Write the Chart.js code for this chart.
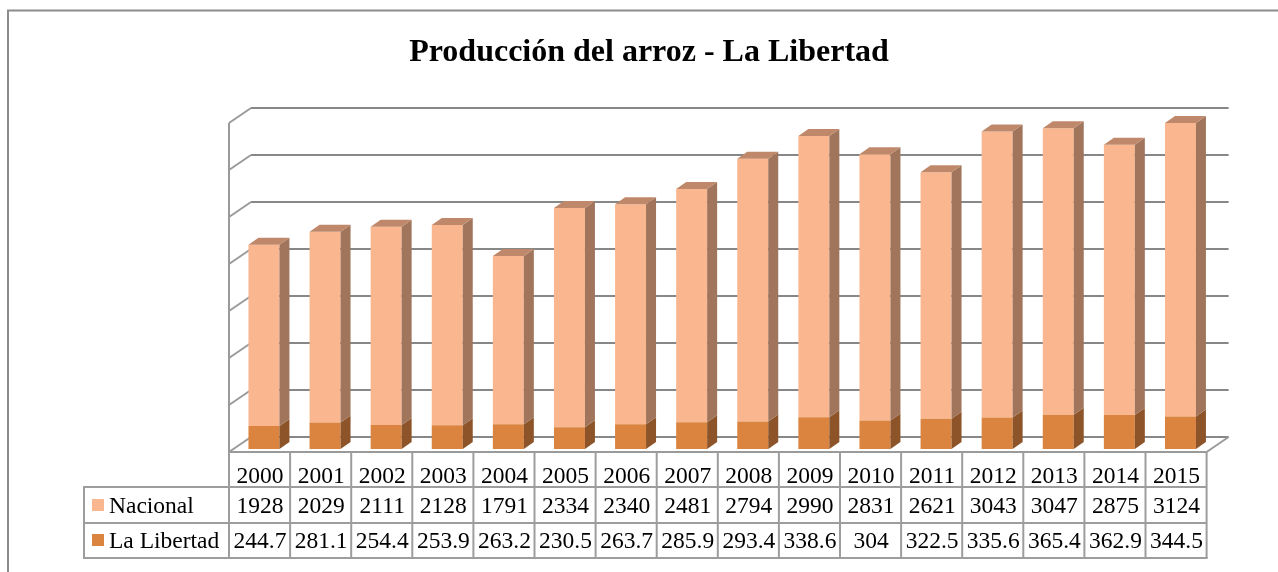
<!DOCTYPE html>
<html>
<head>
<meta charset="utf-8">
<script src="https://cdn.jsdelivr.net/npm/chart.js@4/dist/chart.umd.min.js"></script>
<style>
 body   {margin:0; background:#ffffff;}
 canvas {display:block;}
</style>
</head>
<body>
<canvas id="chart" width="1278" height="572"></canvas>
<script>

// DATA
var years    = ["2000", "2001", "2002", "2003", "2004", "2005", "2006", "2007", "2008", "2009", "2010", "2011", "2012", "2013", "2014", "2015"];
var nacional = [1928, 2029, 2111, 2128, 1791, 2334, 2340, 2481, 2794, 2990, 2831, 2621, 3043, 3047, 2875, 3124];
var libertad = [244.7, 281.1, 254.4, 253.9, 263.2, 230.5, 263.7, 285.9, 293.4, 338.6, 304, 322.5, 335.6, 365.4, 362.9, 344.5];
var y_ticks  = [0, 500, 1000, 1500, 2000, 2500, 3000, 3500];

var title    = "Producción del arroz - La Libertad";
var series   = ["Nacional", "La Libertad"];




// 3D LOOK
var FONT      = "'Liberation Serif', 'Times New Roman', serif";
var DEPTH_X   = 22;          // full floor depth, oblique
var DEPTH_Y   = 15;
var BAR_T0    = 0.2;         // bar front, as fraction of depth
var BAR_DX    = 10;          // bar thickness
var BAR_DY    = 7;

var colors =
{
 nacional: {front:"#FAB78F", top:"#C0886A", side:"#A0755B"},
 libertad: {front:"#DB843F", top:"#B06A32", side:"#8C5428"}
};


function Depth_X(x, t) { return x + (t - BAR_T0) * DEPTH_X; }
function Depth_Y(y, t) { return y - (t - BAR_T0) * DEPTH_Y; }


function Draw_Poly(ctx, points, fill)
{
 ctx.beginPath();
 ctx.moveTo(points[0][0], points[0][1]);
 for(var i = 1; i < points.length; i++) ctx.lineTo(points[i][0], points[i][1]);
 ctx.closePath();
 ctx.fillStyle = fill;
 ctx.fill();
}


function Draw_Line(ctx, x0, y0, x1, y1, color, width)
{
 ctx.beginPath();
 ctx.moveTo(x0, y0);
 ctx.lineTo(x1, y1);
 ctx.strokeStyle = color;
 ctx.lineWidth   = width;
 ctx.stroke();
}




// WALLS, FLOOR AND BACK GRID
var walls_plugin =
{
 id: "walls",
 beforeDatasetsDraw: function(chart)
 {
  var ctx  = chart.ctx;
  var area = chart.chartArea;
  var y    = chart.scales.y;

  ctx.save();

  for(var v of y_ticks)
  {
   var py = y.getPixelForValue(v);

   // back wall
   Draw_Line(ctx, Depth_X(area.left, 1), Depth_Y(py, 1), Depth_X(area.right, 1), Depth_Y(py, 1), "#878787", 2);

   // side wall
   Draw_Line(ctx, Depth_X(area.left, 0), Depth_Y(py, 0), Depth_X(area.left, 1), Depth_Y(py, 1), "#9a9a9a", 2);
  }

  var y0   = y.getPixelForValue(0);
  var ytop = y.getPixelForValue(y_ticks[y_ticks.length - 1]);

  // front edge of side wall
  Draw_Line(ctx, Depth_X(area.left, 0), Depth_Y(ytop, 0), Depth_X(area.left, 0), Depth_Y(y0, 0) + 1, "#9a9a9a", 2);

  // floor front and right edges
  Draw_Line(ctx, Depth_X(area.left, 0), Depth_Y(y0, 0), Depth_X(area.right, 0), Depth_Y(y0, 0), "#9a9a9a", 2);
  Draw_Line(ctx, Depth_X(area.right, 0), Depth_Y(y0, 0), Depth_X(area.right, 1), Depth_Y(y0, 1), "#9a9a9a", 2);

  ctx.restore();
 },


 // SIDES AND TOPS OF BARS
 afterDatasetsDraw: function(chart)
 {
  var ctx = chart.ctx;
  ctx.save();

  var keys = ["libertad", "nacional"];
  for(var d = 0; d < keys.length; d++)
  {
   var meta = chart.getDatasetMeta(d);
   var col  = colors[keys[d]];

   for(var el of meta.data)
   {
    var p   = el.getProps(["x", "y", "base", "width"], true);
    var x0  = p.x - p.width / 2;
    var x1  = p.x + p.width / 2;
    var top = Math.min(p.y, p.base);
    var bot = Math.max(p.y, p.base);

    Draw_Poly(ctx, [[x1, top], [x1 + BAR_DX, top - BAR_DY], [x1 + BAR_DX, bot - BAR_DY], [x1, bot]], col.side);

    // only the last stack shows its top
    if(d == keys.length - 1)
    {
     Draw_Poly(ctx, [[x0, top], [x0 + BAR_DX, top - BAR_DY], [x1 + BAR_DX, top - BAR_DY], [x1, top]], col.top);
    }
   }
  }

  ctx.restore();
 },


 // TITLE, DATA TABLE, BORDER
 afterDraw: function(chart)
 {
  var ctx  = chart.ctx;
  var area = chart.chartArea;
  var x    = chart.scales.x;
  var y    = chart.scales.y;

  ctx.save();

  // outer border
  ctx.strokeStyle = "#8c8c8c";
  ctx.lineWidth   = 2;
  ctx.strokeRect(8, 10.5, 1283, 600);

  // title
  ctx.fillStyle    = "#000000";
  ctx.font         = "bold 32px " + FONT;
  ctx.textAlign    = "center";
  ctx.textBaseline = "alphabetic";
  ctx.fillText(title, 649, 61);

  // table geometry
  var col_w    = x.getPixelForValue(1) - x.getPixelForValue(0);
  var left     = Depth_X(area.left, 0);
  var right    = Depth_X(area.right, 0);
  var row_top  = Depth_Y(y.getPixelForValue(0), 0);
  var row_1    = row_top + 35;
  var row_2    = row_1 + 36;
  var row_3    = row_2 + 35;
  var label_x  = 84;
  var line_col = "#9d9d9d";

  Draw_Line(ctx, label_x, row_1, right, row_1, line_col, 2);
  Draw_Line(ctx, label_x, row_2, right, row_2, line_col, 2);
  Draw_Line(ctx, label_x - 1, row_3, right + 1, row_3, line_col, 2);
  Draw_Line(ctx, label_x, row_1 - 1, label_x, row_3, line_col, 2);

  for(var i = 0; i <= years.length; i++)
  {
   var cx = left + i * col_w;
   Draw_Line(ctx, cx, row_top, cx, row_3, line_col, 2);
  }

  // texts
  ctx.font      = "23.5px " + FONT;
  ctx.fillStyle = "#000000";
  ctx.textAlign = "center";

  for(var i = 0; i < years.length; i++)
  {
   var cx = left + (i + 0.5) * col_w + 0.5;
   ctx.fillText(years[i],            cx, row_top + 31);
   ctx.fillText(String(nacional[i]), cx, row_1 + 25.5);
   ctx.fillText(String(libertad[i]), cx, row_2 + 25);
  }

  // legend keys
  ctx.textAlign = "left";
  ctx.fillStyle = colors.nacional.front;
  ctx.fillRect(92, row_1 + 12, 12, 12);
  ctx.fillStyle = colors.libertad.front;
  ctx.fillRect(92, row_2 + 11, 12, 12);

  ctx.fillStyle = "#000000";
  ctx.fillText(series[0], 109, row_1 + 25.5);
  ctx.fillText(series[1], 109, row_2 + 25);

  ctx.restore();
 }
};




// CHART
var context = document.getElementById("chart").getContext("2d");

var chart = new Chart(context,
{
 type: "bar",
 data:
 {
  labels: years,
  datasets:
  [
   {label: series[1], data: libertad, backgroundColor: colors.libertad.front, borderWidth: 0},
   {label: series[0], data: nacional, backgroundColor: colors.nacional.front, borderWidth: 0}
  ]
 },
 options:
 {
  responsive:       false,
  animation:        false,
  devicePixelRatio: 1,
  layout:           {padding: {left: 233.4, right: 67, top: 120, bottom: 123}},
  datasets:         {bar: {barPercentage: 0.507, categoryPercentage: 1}},
  scales:
  {
   x: {display: false, stacked: true},
   y: {display: false, stacked: true, min: 0, max: 3500, ticks: {stepSize: 500}}
  },
  plugins:
  {
   legend:  {display: false},
   title:   {display: false},
   tooltip: {enabled: false}
  }
 },
 plugins: [walls_plugin]
});

</script>
</body>
</html>
